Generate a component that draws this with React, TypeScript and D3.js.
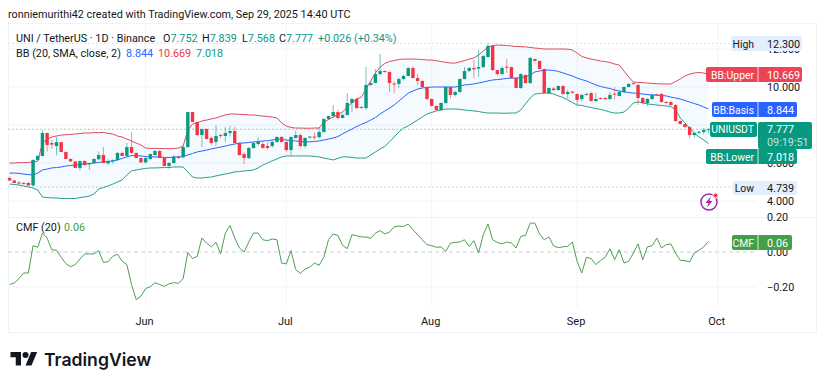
import React from "react";
import * as d3 from "d3";

const opens = [5.21,5.08,4.97,4.95,4.95,4.82,6.16,6.37,7.58,7.05,6.89,7.1,6.58,6.21,6.08,5.74,6.11,5.93,6.0,6.2,6.42,5.98,6.08,6.16,6.53,6.37,6.84,6.53,6.26,6.03,6.21,6.42,6.63,6.26,5.84,6.0,6.32,6.3,6.84,8.68,8.16,7.47,7.79,7.32,7.11,7.47,7.42,7.58,7.68,7.05,6.47,6.26,6.79,7.0,7.0,6.89,6.89,7.11,7.37,7.11,6.68,7.32,7.47,6.89,7.35,7.39,7.36,7.63,8.32,8.47,8.68,8.37,8.53,9.16,9.37,8.95,8.89,10.11,10.21,10.68,10.84,10.79,10.18,10.16,10.42,10.58,11.0,10.47,10.32,10.0,9.37,9.0,8.79,9.16,10.0,9.58,9.74,10.42,10.84,11.0,10.97,11.05,11.58,12.16,10.89,10.68,11.07,11.05,10.47,9.95,10.63,10.21,11.47,11.37,10.95,9.68,9.92,9.84,10.05,9.63,9.76,9.63,9.37,9.58,9.68,9.26,9.42,9.42,9.37,9.65,9.53,9.74,10.0,10.2,10.11,9.42,9.16,9.37,9.6,9.63,9.21,9.21,9.05,8.21,8.05,7.89,7.47,7.6,7.63,7.752];
const highs = [5.29,5.11,5.05,5.0,5.0,6.2,6.42,7.74,7.6,7.2,7.37,7.1,6.6,6.25,6.1,6.14,6.13,6.02,6.25,6.6,6.84,6.2,6.2,6.58,6.6,7.05,7.63,6.55,6.3,6.3,6.5,6.68,6.68,6.3,6.05,6.4,6.4,6.9,8.68,8.68,8.18,7.8,7.82,7.4,8.0,7.55,7.89,7.95,7.89,7.07,6.55,6.85,7.1,7.35,7.15,7.1,7.2,7.4,7.42,7.13,7.4,7.7,7.55,7.35,7.42,7.6,7.85,8.33,8.5,9.05,8.8,8.6,9.68,9.4,9.42,9.0,11.05,10.3,10.95,11.74,10.88,10.82,10.3,10.5,10.65,11.05,11.1,10.7,10.35,10.05,9.4,9.02,9.2,10.05,10.02,9.8,10.45,11.05,11.05,11.42,11.95,11.7,12.32,12.2,10.9,11.1,11.47,11.07,10.5,10.72,10.68,11.58,11.5,11.4,10.97,9.98,10.0,10.1,10.1,9.85,9.8,9.68,9.62,9.7,9.75,9.7,9.46,9.46,9.75,10.0,9.8,10.03,10.2,10.25,10.15,9.45,9.42,9.65,9.66,9.7,9.26,9.26,9.1,8.25,8.08,7.92,7.62,7.7,7.85,7.839];
const lows = [5.05,4.95,4.87,4.87,4.82,4.78,6.1,6.35,6.6,6.74,6.4,6.58,6.2,6.08,5.74,5.6,5.86,5.63,5.98,6.15,6.0,5.9,5.95,6.1,6.37,6.3,6.5,6.26,6.03,5.98,6.16,6.38,6.26,5.84,5.7,5.95,6.2,6.25,6.8,8.16,7.4,6.84,7.26,6.95,6.9,7.3,7.1,7.4,7.05,6.4,5.95,6.2,6.75,6.9,6.75,6.7,6.8,7.05,7.08,6.6,6.4,7.28,6.85,6.8,7.3,7.2,7.3,7.6,8.25,8.35,8.3,8.35,8.5,8.68,8.85,8.85,8.8,10.05,10.2,10.6,10.75,9.74,9.68,9.95,10.35,10.55,10.45,10.1,9.95,9.3,8.98,8.75,8.75,9.1,9.4,9.5,9.7,10.4,10.8,10.47,10.53,11.0,11.55,10.85,10.6,10.6,10.75,10.45,9.93,9.9,10.18,10.15,11.35,10.93,9.66,9.6,9.8,9.8,9.6,9.4,9.65,9.1,9.25,9.55,9.24,9.2,9.34,9.33,9.3,9.33,9.5,9.7,9.97,10.14,9.05,9.1,9.0,9.3,9.52,9.18,9.13,9.03,8.18,8.03,7.87,7.3,7.35,7.55,7.5,7.568];
const closes = [5.08,4.95,4.95,4.93,4.82,6.16,6.37,7.58,6.95,6.97,7.1,6.58,6.21,6.08,5.74,6.1,5.89,6.0,6.21,6.42,6.0,6.1,6.14,6.53,6.37,6.84,6.53,6.26,6.03,6.26,6.47,6.63,6.26,5.84,6.0,6.32,6.28,6.84,8.68,8.16,7.47,7.79,7.26,7.05,7.42,7.45,7.58,7.68,7.05,6.42,6.26,6.79,7.05,7.11,6.79,6.79,7.11,7.37,7.11,6.68,7.37,7.47,6.89,7.32,7.39,7.36,7.63,8.32,8.47,8.68,8.37,8.53,9.16,9.37,8.89,8.92,10.11,10.21,10.68,10.84,10.82,10.21,10.15,10.42,10.58,11.0,10.47,10.32,10.0,9.37,9.0,8.79,9.16,10.0,9.58,9.74,10.42,10.84,11.0,10.93,11.05,11.63,12.16,10.89,10.68,11.0,11.03,10.47,9.95,10.68,10.21,11.53,11.37,10.95,9.68,9.95,9.84,10.05,9.63,9.74,9.7,9.32,9.58,9.63,9.26,9.37,9.37,9.36,9.58,9.6,9.74,10.0,10.16,10.16,9.42,9.16,9.37,9.58,9.57,9.21,9.16,9.05,8.21,8.05,7.89,7.47,7.58,7.64,7.74,7.777];

const bbUpper = [6.0,6.0,6.02,6.02,6.03,6.05,6.1,7.05,7.26,7.37,7.42,7.47,7.49,7.5,7.53,7.55,7.58,7.58,7.6,7.6,7.61,7.56,7.53,7.42,7.37,7.26,7.16,7.05,6.95,6.79,6.77,6.77,6.76,6.76,6.75,6.76,6.79,6.89,7.74,8.05,8.12,8.21,8.26,8.32,8.37,8.45,8.53,8.58,8.58,8.56,8.55,8.53,8.53,8.5,8.47,8.45,8.42,8.37,8.11,7.95,7.87,7.84,7.84,7.83,7.83,7.84,7.84,8.16,8.29,8.42,8.55,8.68,8.95,9.16,9.37,9.47,9.89,10.32,10.74,11.05,11.24,11.34,11.39,11.45,11.47,11.47,11.47,11.46,11.45,11.42,11.42,11.38,11.34,11.3,11.26,11.26,11.32,11.39,11.47,11.53,11.68,11.89,12.11,12.18,12.21,12.2,12.18,12.16,12.13,12.12,12.11,12.08,12.05,12.03,12.0,12.0,12.0,12.0,12.0,11.99,11.95,11.79,11.61,11.53,11.47,11.42,11.37,11.34,11.29,11.21,11.16,10.84,10.53,10.26,10.24,10.23,10.21,10.19,10.17,10.16,10.16,10.16,10.29,10.42,10.58,10.68,10.74,10.76,10.74,10.669];
const bbBasis = [5.47,5.47,5.45,5.42,5.39,5.37,5.47,5.63,5.68,5.74,5.76,5.79,5.84,5.87,5.89,5.92,5.95,5.97,6.0,6.03,6.05,6.08,6.11,6.16,6.24,6.32,6.39,6.39,6.37,6.34,6.32,6.32,6.32,6.29,6.29,6.32,6.32,6.34,6.42,6.5,6.58,6.63,6.68,6.74,6.79,6.84,6.89,6.95,7.0,7.05,7.05,7.08,7.11,7.13,7.16,7.18,7.21,7.26,7.24,7.21,7.18,7.16,7.13,7.11,7.11,7.13,7.16,7.21,7.26,7.32,7.39,7.53,7.66,7.79,7.92,8.03,8.13,8.26,8.39,8.58,8.74,8.89,9.05,9.26,9.47,9.68,9.79,9.89,9.95,9.97,10.0,10.0,10.0,10.0,10.0,10.0,10.05,10.11,10.13,10.16,10.21,10.26,10.32,10.37,10.39,10.42,10.45,10.47,10.47,10.5,10.53,10.63,10.79,10.84,10.89,10.89,10.87,10.82,10.74,10.66,10.58,10.47,10.39,10.32,10.21,10.11,10.03,9.97,9.92,9.84,9.79,9.74,9.71,9.68,9.66,9.63,9.6,9.58,9.58,9.55,9.53,9.47,9.42,9.37,9.29,9.21,9.13,9.05,8.95,8.844];
const bbLower = [4.89,4.87,4.84,4.79,4.74,4.68,4.58,4.21,4.18,4.16,4.16,4.13,4.13,4.13,4.13,4.18,4.21,4.26,4.37,4.63,4.71,4.79,4.89,5.0,5.11,5.37,5.58,5.63,5.68,5.71,5.74,5.74,5.75,5.76,5.76,5.79,5.79,5.79,5.53,5.26,5.21,5.21,5.24,5.26,5.32,5.37,5.42,5.47,5.53,5.55,5.58,5.6,5.63,5.74,5.89,6.0,6.11,6.21,6.32,6.37,6.37,6.37,6.37,6.37,6.37,6.34,6.32,6.26,6.21,6.16,6.24,6.32,6.32,6.29,6.26,6.26,6.26,6.42,6.58,6.74,6.87,7.11,7.37,7.63,7.84,7.95,8.11,8.26,8.42,8.58,8.66,8.74,8.79,8.84,8.84,8.84,8.82,8.79,8.76,8.74,8.71,8.66,8.63,8.63,8.63,8.62,8.62,8.63,8.63,8.79,9.11,9.42,9.63,9.66,9.68,9.68,9.63,9.53,9.45,9.32,9.18,9.05,9.03,8.97,8.92,8.87,8.82,8.76,8.68,8.63,8.63,8.68,8.89,9.16,9.21,9.16,9.11,9.08,9.05,9.03,9.0,8.97,8.79,8.37,8.11,7.84,7.58,7.37,7.21,7.018];
const cmf = [-0.186,-0.177,-0.152,-0.12,-0.12,0.036,0.027,0.108,0.08,0.013,0.01,-0.03,-0.067,-0.084,-0.072,-0.04,-0.011,-0.011,-0.011,0.008,-0.06,-0.055,-0.025,-0.013,-0.053,-0.072,-0.186,-0.272,-0.253,-0.209,-0.198,-0.175,-0.186,-0.196,-0.182,-0.175,-0.179,-0.152,-0.002,-0.038,-0.025,0.08,0.051,0.029,0.055,-0.01,0.108,0.152,0.08,0.023,0,0.057,0.108,0.108,0.07,0.065,0.074,0.07,-0.063,-0.068,0.008,-0.1,-0.122,-0.097,-0.087,-0.063,-0.076,-0.029,0.07,0.103,0.095,0.038,0.019,0.099,0.093,0.086,0.086,0.078,0.108,0.122,0.103,0.114,0.144,0.148,0.146,0.16,0.127,0.099,0.07,0.042,0.036,0.027,0.029,0.004,0.051,0.055,0.057,0.07,0.032,0.065,-0.006,0.099,0.16,0.07,0.055,0.046,0.057,0.051,0.023,0.089,0.095,0.165,0.165,0.103,0.07,0.086,0.034,0.025,0.03,0.032,0.057,-0.053,-0.12,-0.03,-0.038,-0.072,-0.049,-0.03,0.019,-0.044,0.013,-0.063,-0.053,-0.006,0.046,-0.044,0.029,0.036,0.08,0.023,0.042,0.046,-0.006,-0.048,-0.049,-0.057,-0.006,0.01,0.029,0.06];

const gridTicks = [4, 6, 8, 10, 12];
const priceTicks = [4, 6, 10, 12];
const cmfTicks = [0.2, 0, -0.2];
const monthLabels = ["Jun", "Jul", "Aug", "Sep", "Oct"];
const monthIndexes = [29, 59, 90, 121, 151];

const UP = "#089981";
const DOWN = "#f23645";
const FONT = "Roboto, Arial, sans-serif";
const INK = "#131722";

const x = d3.scaleLinear().domain([0, 149]).range([9.6, 708.4]);
const y = d3.scaleLinear().domain([4, 10]).range([201, 87]);
const yc = d3.scaleLinear().domain([-0.2, 0.2]).range([287, 217]);
const idx = d3.range(opens.length);

const lineOf = (s: number[], sc: d3.ScaleLinear<number, number>) =>
  d3.line<number>().x((i) => x(i)).y((i) => sc(s[i]))(idx) as string;
const bandArea = d3
  .area<number>()
  .x((i) => x(i))
  .y0((i) => y(bbLower[i]))
  .y1((i) => y(bbUpper[i]))(idx) as string;

type TagProps = { x0: number; x1: number; split: number; cy: number; h?: number; fill: string; name: string; val: string; color?: string };
const Tag = ({ x0, x1, split, cy, h = 15, fill, name, val, color = "#fff" }: TagProps) => (
  <g>
    <rect x={x0} y={cy - h / 2} width={x1 - x0} height={h} rx={2} fill={fill} />
    <line x1={split} x2={split} y1={cy - h / 2} y2={cy + h / 2} stroke="#fff" strokeOpacity={fill === "#e3effd" ? 0 : 0.8} />
    <text x={split - 4} y={cy + 4} fontSize={10.4} fill={color === "#fff" ? "#fff" : INK} textAnchor="end">{name}</text>
    <text x={split + 9} y={cy + 4} fontSize={10.8} fill={color === "#fff" ? "#fff" : INK}>{val}</text>
  </g>
);

export default function App() {
  return (
    <svg width={825} height={386} viewBox="0 0 825 386" style={{ position: "absolute", left: 0, top: 0, background: "#fff" }} fontFamily={FONT}>
      <defs>
        <filter id="soft" x="-2%" y="-2%" width="104%" height="104%">
          <feGaussianBlur stdDeviation="0.35" />
        </filter>
      </defs>
      <text x={8} y={18} fontSize={10.8} fill={INK}>ronniemurithi42 created with TradingView.com, Sep 29, 2025 14:40 UTC</text>

      {/* frame and grid */}
      <rect x={8.5} y={23.5} width={808} height={309} fill="none" stroke="#f0f3fa" />
      <line x1={8} x2={817} y1={217.5} y2={217.5} stroke="#eef0f5" />
      <g stroke="#f0f3fa">
        {monthIndexes.map((m) => (
          <line key={m} x1={x(m)} x2={x(m)} y1={24} y2={307} />
        ))}
        {gridTicks.map((t) => (
          <line key={t} x1={8} x2={757} y1={y(t)} y2={y(t)} />
        ))}
        <line x1={8} x2={757} y1={yc(-0.2)} y2={yc(-0.2)} />
      </g>
      <g stroke="#c9ced6" strokeDasharray="2 2">
        <line x1={8} x2={757} y1={y(12.3)} y2={y(12.3)} strokeOpacity={0.6} />
        <line x1={8} x2={757} y1={y(7.777)} y2={y(7.777)} stroke="#b3c9c3" />
        <line x1={8} x2={757} y1={y(4.739)} y2={y(4.739)} strokeOpacity={0.8} />
        <line x1={8} x2={757} y1={yc(0)} y2={yc(0)} strokeDasharray="4 3" />
      </g>

      <g filter="url(#soft)">
        <path d={bandArea} fill="#2196f3" fillOpacity={0.045} />
        <path d={lineOf(bbUpper, y)} fill="none" stroke="#dc4a5c" strokeWidth={1} />
        <path d={lineOf(bbBasis, y)} fill="none" stroke="#2962ff" strokeWidth={1} />
        <path d={lineOf(bbLower, y)} fill="none" stroke="#2a9d85" strokeWidth={1} />
        {idx.map((i) => {
          const up = closes[i] >= opens[i];
          const c = up ? UP : DOWN;
          const top = y(Math.max(opens[i], closes[i]));
          const bot = y(Math.min(opens[i], closes[i]));
          return (
            <g key={i}>
              <line x1={x(i)} x2={x(i)} y1={y(highs[i])} y2={y(lows[i])} stroke={c} strokeOpacity={0.7} strokeWidth={0.8} />
              <rect x={x(i) - 1.7} width={3.4} y={top} height={Math.max(bot - top, 1)} fill={c} />
            </g>
          );
        })}
        <path d={lineOf(cmf, yc)} fill="none" stroke="#4c9f50" strokeWidth={1} />
      </g>

      {/* legend */}
      <g fontSize={10.8}>
        <text x={16} y={42} fill={INK}>UNI / TetherUS · 1D · Binance</text>
        <text y={42} fill={UP}>
          <tspan x={163} fill={INK}>O</tspan><tspan>7.752</tspan>
          <tspan x={202} fill={INK}>H</tspan><tspan>7.839</tspan>
          <tspan x={242} fill={INK}>L</tspan><tspan>7.568</tspan>
          <tspan x={279} fill={INK}>C</tspan><tspan>7.777</tspan>
          <tspan x={318}>+0.026</tspan>
          <tspan x={354}>(+0.34%)</tspan>
        </text>
        <text x={16} y={57} fill={INK}>BB (20, SMA, close, 2)</text>
        <text x={126} y={57} fill="#2962ff">8.844</text>
        <text x={158} y={57} fill={DOWN}>10.669</text>
        <text x={196} y={57} fill={UP}>7.018</text>
        <text x={16} y={231} fill={INK}>CMF (20)</text>
        <text x={64} y={231} fill="#43a047">0.06</text>
      </g>

      {/* price axis */}
      <g fontSize={10.8} fill={INK} textAnchor="start">
        {priceTicks.map((t) => (
          <text key={t} x={767} y={y(t) + 4}>{d3.format(".3f")(t)}</text>
        ))}
        {cmfTicks.map((t) => (
          <text key={t} x={767} y={yc(t) + 4}>{d3.format(".2f")(t).replace("-", "−")}</text>
        ))}
      </g>

      {/* axis tags */}
      <Tag x0={731} x1={802} split={758} cy={43.5} fill="#e3effd" name="High" val="12.300" color={INK} />
      <Tag x0={706} x1={802} split={758} cy={74.5} fill="#ec4356" name="BB:Upper" val="10.669" />
      <Tag x0={712} x1={797} split={758} cy={109.5} fill="#2962ff" name="BB:Basis" val="8.844" />
      <Tag x0={733} x1={797} split={758} cy={188} h={14} fill="#e3effd" name="Low" val="4.739" color={INK} />
      <rect x={710} y={122} width={47} height={15} rx={2} fill={UP} />
      <rect x={758} y={122} width={54} height={27} rx={2} fill={UP} />
      <text x={754} y={133} fontSize={10.4} fill="#fff" textAnchor="end">UNIUSDT</text>
      <text x={767} y={133} fontSize={10.8} fill="#fff">7.777</text>
      <text x={767} y={146} fontSize={10.8} fill="#fff" fillOpacity={0.75}>09:19:51</text>
      <Tag x0={706} x1={797} split={758} cy={156.5} fill={UP} name="BB:Lower" val="7.018" />
      <Tag x0={732} x1={792} split={758} cy={242.5} fill="#43a047" name="CMF" val="0.06" />

      {/* lightning badge */}
      <g>
        <circle cx={709} cy={202} r={8} fill="none" stroke="#9c27b0" strokeWidth={1.5} />
        <path d="M711 196.5 L705.5 203 L708.6 203 L707 207.5 L712.5 201 L709.4 201 Z" fill="#9c27b0" />
        <circle cx={715.5} cy={195.5} r={2.6} fill="#f23645" stroke="#fff" />
      </g>

      {/* time axis */}
      <g fontSize={11} fill={INK} textAnchor="middle">
        {monthLabels.map((l, k) => (
          <text key={l} x={x(monthIndexes[k]) - 1} y={325}>{l}</text>
        ))}
      </g>

      {/* logo */}
      <g transform="translate(10.5,349) scale(0.75)" fill="#131722">
        <path d="M14 22H7V11H0V4h14v18zM28 22h-8l7.5-18h8L28 22z" />
        <circle cx={20} cy={8} r={4} />
      </g>
      <text x={44} y={365.5} fontSize={17.6} fontWeight={600} fill="#131722" fontFamily="Inter, 'Noto Sans', sans-serif">TradingView</text>
    </svg>
  );
}
